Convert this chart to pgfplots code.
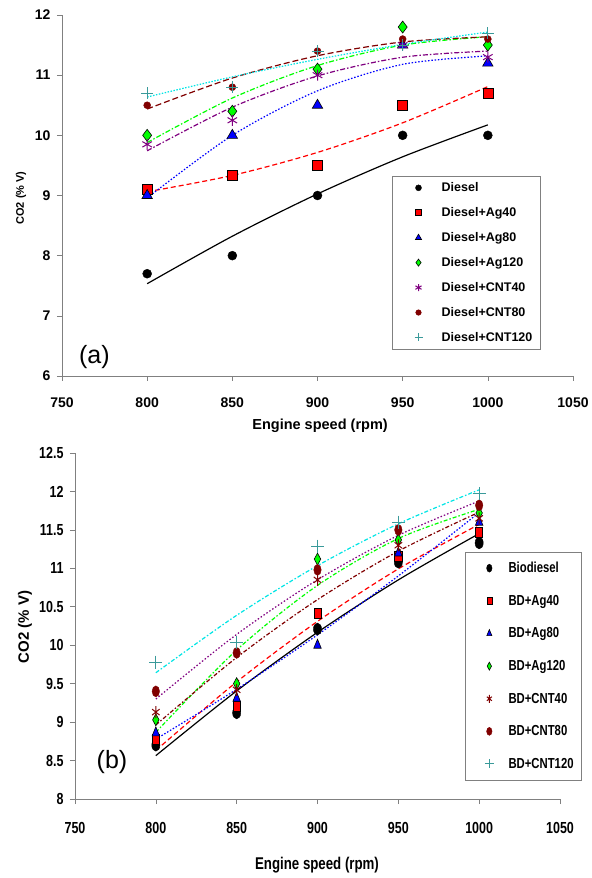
\documentclass[border=0pt]{standalone}
\usepackage{fontspec}
\setmainfont{Liberation Sans}
\newfontfamily\narrowfont[FakeStretch=0.78]{Liberation Sans}
\usepackage{pgfplots}
\pgfplotsset{compat=1.18}
\definecolor{dred}{HTML}{800000}
\definecolor{purp}{HTML}{800080}
\definecolor{grn}{HTML}{00FF00}
\definecolor{cyn}{HTML}{00E5E5}
\definecolor{tealm}{HTML}{3A9A9A}
\definecolor{axgray}{HTML}{808080}
\pgfplotsset{
  trend/.style={forget plot, smooth, line width=1.2bp},
  mk/.style={only marks, mark options={draw=black, fill=#1, line width=0.6bp}},
  mkb/.style={only marks, mark options={draw=black, fill=#1, line width=0.6bp, xscale=0.72}},
  lga/.style={legend image code/.code={\path (0bp,0bp) (41bp,0bp); \draw[##1, mark size=#1] plot coordinates {(20bp,0bp)};}},
  lgb/.style={legend image code/.code={\path (0bp,0bp) (35bp,0bp); \draw[##1, mark size=#1] plot coordinates {(18bp,0bp)};}},
}
\begin{document}
\begin{tikzpicture}
\useasboundingbox (0,0) rectangle (592bp,878bp);
% ---------------- (a) ----------------
\begin{axis}[
  at={(62bp,502bp)}, anchor=south west,
  scale only axis, width=511bp, height=361bp,
  xmin=750, xmax=1050, ymin=6, ymax=12,
  xtick={750,800,...,1050}, ytick={6,7,...,12},
  xticklabels={750,800,850,900,950,1000,1050},
  yticklabels={6,7,8,9,10,11,12},
  axis x line*=bottom, axis y line*=left,
  axis line style={axgray,-}, tick style={axgray, line width=0.6bp},
  tick align=outside, major tick length=5bp,
  tick label style={font=\fontsize{14bp}{16bp}\selectfont\bfseries},
  xticklabel style={yshift=-13bp},
  yticklabel style={xshift=-3bp},
  xlabel={Engine speed (rpm)},
  xlabel style={at={(axis description cs:0.505,-0.139)}, anchor=center, font=\fontsize{14.5bp}{17bp}\selectfont\bfseries},
  ylabel={CO2 (\% V)},
  ylabel style={at={(axis description cs:-0.08,0.493)}, anchor=center, font=\fontsize{11bp}{13bp}\selectfont\bfseries},
  legend style={at={(axis description cs:0.646,0.553)}, anchor=north west, draw=axgray, fill=white,
    font=\fontsize{12.5bp}{14bp}\selectfont\bfseries, inner xsep=6bp, inner ysep=4bp, row sep=10.4bp},
  legend cell align=left,
]
\addplot[trend, black] coordinates {(800,7.534)(850,8.323)(900,9.026)(950,9.643)(1000,10.174)};
\addplot[trend, red, dash pattern=on 5bp off 3bp] coordinates {(800,9.062)(850,9.334)(900,9.716)(950,10.208)(1000,10.81)};
\addplot[trend, blue, dash pattern=on 1.5bp off 1.8bp] coordinates {(800,8.96)(850,10.0)(900,10.74)(950,11.18)(1000,11.32)};
\addplot[trend, grn, dash pattern=on 5bp off 2bp on 1.5bp off 2bp] coordinates {(800,9.88)(850,10.62)(900,11.16)(950,11.5)(1000,11.64)};
\addplot[trend, purp, dash pattern=on 5bp off 2bp on 1.5bp off 2bp] coordinates {(800,9.743)(850,10.468)(900,10.987)(950,11.298)(1000,11.40)};
\addplot[trend, dred, dash pattern=on 6bp off 3bp] coordinates {(800,10.437)(850,10.952)(900,11.323)(950,11.552)(1000,11.637)};
\addplot[trend, cyn, dash pattern=on 1.5bp off 1.5bp] coordinates {(800,10.637)(850,10.972)(900,11.263)(950,11.512)(1000,11.717)};

\addplot[only marks, mark=*, mark size=4.5bp, black, lga=3bp] coordinates {(800,7.7)(850,8.0)(900,9.0)(950,10.0)(1000,10.0)};
\addlegendentry{Diesel}
\addplot[mk=red, mark=square*, mark size=5bp, lga=3bp] coordinates {(800,9.1)(850,9.33)(900,9.5)(950,10.5)(1000,10.7)};
\addlegendentry{Diesel+Ag40}
\addplot[mk=blue, mark=triangle*, mark size=6bp, lga=3.5bp] coordinates {(800,9.0)(850,10.0)(900,10.5)(950,11.5)(1000,11.2)};
\addlegendentry{Diesel+Ag80}
\addplot[mk=grn, mark=diamond*, mark size=6bp, lga=3.5bp] coordinates {(800,10.0)(850,10.4)(900,11.1)(950,11.8)(1000,11.5)};
\addlegendentry{Diesel+Ag120}
\addplot[only marks, mark=asterisk, mark size=5.5bp, purp, mark options={line width=1bp}, lga=3.5bp] coordinates {(800,9.85)(850,10.25)(900,11.0)(950,11.5)(1000,11.3)};
\addlegendentry{Diesel+CNT40}
\addplot[only marks, mark=*, mark size=3.5bp, dred, lga=2.8bp] coordinates {(800,10.5)(850,10.8)(900,11.4)(950,11.6)(1000,11.6)};
\addlegendentry{Diesel+CNT80}
\addplot[only marks, mark=+, mark size=6bp, tealm, mark options={line width=1bp}, lga=4bp] coordinates {(800,10.7)(850,10.8)(900,11.4)(950,11.5)(1000,11.7)};
\addlegendentry{Diesel+CNT120}
\node[font=\fontsize{25bp}{28bp}\selectfont] at (axis cs:769,6.32) {(a)};
\end{axis}
% ---------------- (b) ----------------
\begin{axis}[
  at={(75bp,79bp)}, anchor=south west,
  scale only axis, width=485bp, height=346bp,
  xmin=750, xmax=1050, ymin=8, ymax=12.5,
  xtick={750,800,...,1050}, ytick={8,8.5,...,12.5},
  xticklabels={750,800,850,900,950,1000,1050},
  yticklabels={8,8.5,9,9.5,10,10.5,11,11.5,12,12.5},
  axis x line*=bottom, axis y line*=left,
  axis line style={axgray,-}, tick style={axgray, line width=0.6bp},
  tick align=outside, major tick length=5bp,
  tick label style={font=\narrowfont\fontsize{16bp}{18bp}\selectfont\bfseries},
  xticklabel style={yshift=-15bp},
  yticklabel style={xshift=-3bp},
  xlabel={Engine speed (rpm)},
  xlabel style={at={(axis description cs:0.499,-0.191)}, anchor=center, font=\narrowfont\fontsize{17bp}{19bp}\selectfont\bfseries},
  ylabel={CO2 (\% V)},
  ylabel style={at={(axis description cs:-0.103,0.497)}, anchor=center, font=\fontsize{15bp}{17bp}\selectfont\bfseries},
  legend style={at={(axis description cs:0.804,0.714)}, anchor=north west, draw=axgray, fill=white,
    font=\narrowfont\fontsize{14.5bp}{16bp}\selectfont\bfseries, inner xsep=6bp, inner ysep=8bp, row sep=17bp},
  legend cell align=left,
]
\addplot[trend, black] coordinates {(800,8.564)(850,9.406)(900,10.168)(950,10.85)(1000,11.452)};
\addplot[trend, red, dash pattern=on 5bp off 3bp] coordinates {(800,8.632)(850,9.523)(900,10.31)(950,10.993)(1000,11.572)};
\addplot[trend, blue, dash pattern=on 1.5bp off 1.8bp] coordinates {(800,8.778)(850,9.427)(900,10.135)(950,10.901)(1000,11.726)};
\addplot[trend, grn, dash pattern=on 4bp off 2bp on 1.5bp off 2bp] coordinates {(800,8.868)(850,9.938)(900,10.778)(950,11.388)(1000,11.768)};
\addplot[trend, dred, dash pattern=on 4bp off 2bp on 1.5bp off 2bp] coordinates {(800,8.963)(850,9.84)(900,10.593)(950,11.224)(1000,11.731)};
\addplot[trend, purp, dash pattern=on 1.5bp off 2bp] coordinates {(800,9.30)(850,10.141)(900,10.851)(950,11.429)(1000,11.876)};
\addplot[trend, cyn, dash pattern=on 4bp off 2bp on 1.5bp off 2bp] coordinates {(800,9.642)(850,10.389)(900,11.035)(950,11.579)(1000,12.021)};

\addplot[only marks, mark=*, mark size=6bp, black, mark options={xscale=0.68}, lgb=4bp] coordinates {(800,8.7)(850,9.12)(900,10.21)(950,11.08)(1000,11.33)};
\addlegendentry{Biodiesel}
\addplot[mkb=red, mark=square*, mark size=5bp, lgb=3.5bp] coordinates {(800,8.77)(850,9.21)(900,10.42)(950,11.16)(1000,11.47)};
\addlegendentry{BD+Ag40}
\addplot[mkb=blue, mark=triangle*, mark size=6bp, lgb=4bp] coordinates {(800,8.86)(850,9.31)(900,10.0)(950,11.2)(1000,11.6)};
\addlegendentry{BD+Ag80}
\addplot[mkb=grn, mark=diamond*, mark size=6bp, lgb=4bp] coordinates {(800,9.03)(850,9.5)(900,11.12)(950,11.37)(1000,11.72)};
\addlegendentry{BD+Ag120}
\addplot[only marks, mark=asterisk, mark size=6bp, dred, mark options={line width=1bp, xscale=0.72}, lgb=4bp] coordinates {(800,9.13)(850,9.42)(900,10.85)(950,11.3)(1000,11.65)};
\addlegendentry{BD+CNT40}
\addplot[only marks, mark=*, mark size=5.5bp, dred, mark options={xscale=0.68}, lgb=4bp] coordinates {(800,9.4)(850,9.9)(900,10.98)(950,11.5)(1000,11.82)};
\addlegendentry{BD+CNT80}
\addplot[only marks, mark=+, mark size=6.5bp, tealm, mark options={line width=1bp}, lgb=4.5bp] coordinates {(800,9.78)(850,10.03)(900,11.29)(950,11.6)(1000,11.97)};
\addlegendentry{BD+CNT120}
\node[font=\fontsize{25bp}{28bp}\selectfont] at (axis cs:772.9,8.48) {(b)};
\end{axis}
\end{tikzpicture}
\end{document}
